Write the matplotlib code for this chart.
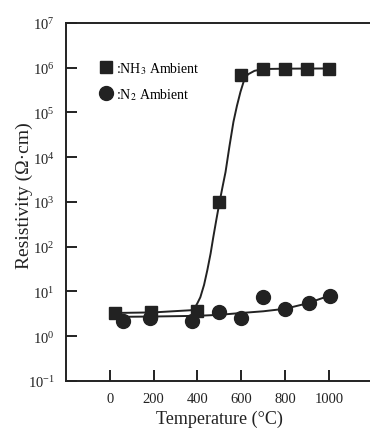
import matplotlib
matplotlib.use("Agg")
import matplotlib.pyplot as plt
from matplotlib.ticker import NullLocator

plt.rcParams['font.family'] = ['Liberation Serif', 'DejaVu Serif']
plt.rcParams['mathtext.fontset'] = 'stix'

# measured points
nh3_temp = [25, 190, 400, 500, 600, 700, 800, 900, 1000]
nh3_res = [3.3, 3.4, 3.6, 1000, 7e5, 9.5e5, 9.5e5, 9.5e5, 9.5e5]

n2_temp = [60, 185, 375, 500, 600, 700, 800, 910, 1005]
n2_res = [2.2, 2.5, 2.2, 3.4, 2.5, 7.4, 4.0, 5.5, 7.9]

# hand-drawn fit lines
nh3_fit_temp = [25, 200, 370, 380, 390, 400, 413, 430, 445, 460, 472, 486, 500,
                514, 528, 546, 564, 580, 596, 610, 630, 660, 700, 800, 1000]
nh3_fit_res = [3.3, 3.4, 3.8, 4.0, 4.5, 5.5, 7.4, 14, 30, 71, 162, 400, 955,
               2140, 4680, 17800, 61700, 1.41e5, 2.88e5, 4.79e5, 7.08e5, 8.51e5,
               9.33e5, 9.5e5, 9.6e5]

n2_fit_temp = [25, 200, 400, 500, 600, 700, 800, 900, 1000]
n2_fit_res = [2.7, 2.75, 2.85, 3.0, 3.3, 3.6, 4.1, 5.4, 8.0]

fig = plt.figure(figsize=(3.7, 4.35), dpi=100)
ax = fig.add_axes([0.178, 0.122, 0.83, 0.823])

ax.plot(nh3_fit_temp, nh3_fit_res, color='#222222', lw=1.4)
ax.plot(n2_fit_temp, n2_fit_res, color='#222222', lw=1.4)
ax.plot(nh3_temp, nh3_res, 's', color='#222222', ms=9, label=':NH$_3$ Ambient')
ax.plot(n2_temp, n2_res, 'o', color='#222222', ms=10, label=':N$_2$ Ambient')

ax.set_yscale('log')
ax.set_ylim(0.1, 1e7)
ax.set_xlim(-200, 1200)
ax.set_xticks([0, 200, 400, 600, 800, 1000])
ax.yaxis.set_minor_locator(NullLocator())

for s in ['left', 'top', 'bottom']:
    ax.spines[s].set_linewidth(1.4)
    ax.spines[s].set_color('#222222')
ax.spines['right'].set_visible(False)

ax.tick_params(direction='in', length=8, width=1.4, color='#222222',
               labelsize=10.5, labelcolor='#222222', pad=8)

ax.set_xlabel('Temperature (°C)', fontsize=13, color='#222222', labelpad=3)
ax.set_ylabel('Resistivity (Ω·cm)', fontsize=14, color='#222222')
ax.yaxis.set_label_coords(-0.107, 0.52)

ax.legend(loc='upper left', bbox_to_anchor=(0.085, 0.912), frameon=False,
          fontsize=10, handletextpad=0.1, labelspacing=0.75,
          handlelength=1.2, borderaxespad=0)

fig.savefig('out.png', dpi=100)
